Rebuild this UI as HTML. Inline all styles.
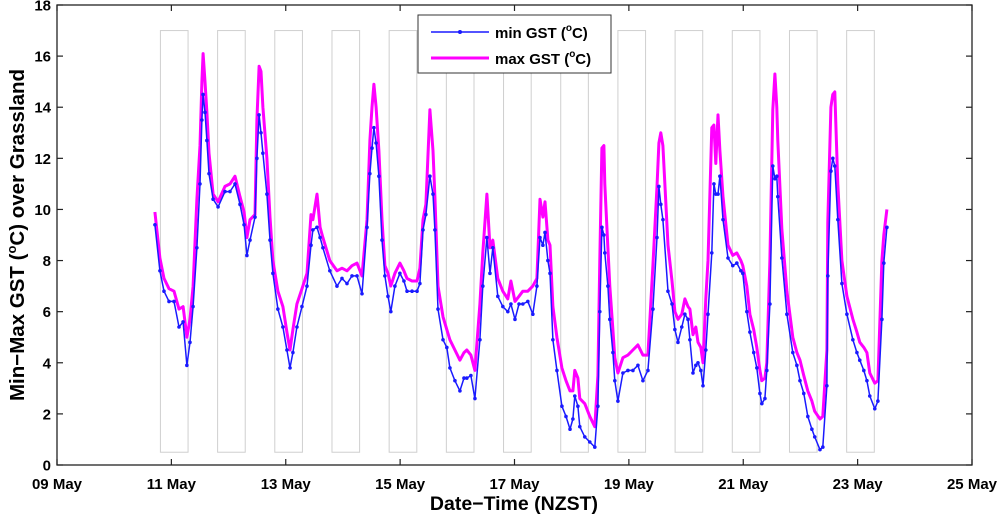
<!DOCTYPE html>
<html><head><meta charset="utf-8">
<style>
html,body{margin:0;padding:0;background:#fff;}
svg{display:block;font-family:"Liberation Sans",Arial,sans-serif;}
</style></head>
<body>
<svg id="chart" width="1000" height="515" viewBox="0 0 1000 515">
  <rect x="0" y="0" width="1000" height="515" fill="#fff"/>
  <g id="nights"></g>
  <g id="series"></g>
  <rect x="57" y="5" width="915" height="460" fill="none" stroke="#222" stroke-width="1.3"/>
  <g id="axes"></g>
  <text x="514" y="510" text-anchor="middle" font-size="19.5" font-weight="bold" fill="#000">Date−Time (NZST)</text>
  <text transform="translate(24,235) rotate(-90)" text-anchor="middle" font-size="20.5" font-weight="bold" fill="#000">Min−Max GST (<tspan font-size="13" dy="-8">o</tspan><tspan dy="8">C) over Grassland</tspan></text>
  <g>
    <rect x="418" y="15" width="193" height="58" fill="#fff" stroke="#333" stroke-width="1"/>
    <g>
      <line x1="431" y1="32" x2="489" y2="32" stroke="#1a1aff" stroke-width="1.5"/>
      <circle cx="460" cy="32" r="2" fill="#1a1aff"/>
      <text x="495" y="38" font-size="15" font-weight="bold">min GST (<tspan font-size="10" dy="-7">o</tspan><tspan dy="7">C)</tspan></text>
    </g>
    <g>
      <line x1="431" y1="58" x2="489" y2="58" stroke="#ff00ff" stroke-width="3"/>
      <text x="495" y="64" font-size="15" font-weight="bold">max GST (<tspan font-size="10" dy="-7">o</tspan><tspan dy="7">C)</tspan></text>
    </g>
  </g>
</svg>
<script>
// hours since 09 May 00:00 NZST
const hours = [
41.1,43.2,44.9,47.0,49.1,51.2,52.9,54.5,55.8,57.1,
58.7,60.0,60.8,61.3,62.1,62.9,63.8,65.5,67.6,70.5,
72.6,74.7,76.8,78.5,79.7,81.0,83.1,83.9,84.8,85.6,
86.4,88.1,89.4,90.6,92.7,94.8,96.5,97.8,99.0,100.7,
102.8,104.9,106.6,107.4,109.1,110.4,111.6,114.5,117.5,119.6,
121.7,123.8,125.9,128.0,130.1,131.3,132.2,133.0,133.9,135.1,
136.4,137.6,138.9,140.1,141.8,143.9,145.6,146.9,149.0,151.1,
152.3,153.6,154.8,156.5,157.8,158.6,159.9,162.0,163.6,164.9,
167.0,169.1,170.8,172.0,173.7,175.4,177.5,178.7,180.4,181.7,
182.9,185.0,187.1,189.2,190.5,192.2,193.9,195.5,197.6,199.7,
201.4,202.7,203.9,204.8,206.0,206.9,208.1,209.8,211.9,213.6,
215.3,216.5,217.3,218.6,219.4,221.5,223.6,225.7,227.0,227.8,
228.7,229.5,229.9,231.2,232.0,233.3,234.1,235.4,237.5,239.6,
241.7,243.8,245.9,248.0,250.1,251.8,252.6,253.4,254.3,256.4,
258.1,259.3,260.6,262.2,263.5,264.8,265.6,266.9,268.1,269.0,
270.2,271.1,272.3,273.2,274.8,275.7,276.5,277.4,278.2,279.5,
281.6,283.6,285.3,287.0,287.8,289.5,290.8,292.4,293.7,295.0,
295.8,297.1,297.9,299.2,300.4,301.3,302.1,302.5,304.2,306.3,
308.8,310.5,311.8,313.4,315.1,316.8,318.0,320.2,321.4,323.1,
323.5,324.8,325.6,326.4,327.7,329.4,331.5,334.0,335.7,336.9,
338.6,339.9,341.1,343.2,344.5,346.2,347.0,348.3];
const minGST = [
9.4,7.6,6.8,6.4,6.4,5.4,5.6,3.9,4.8,6.2,
8.5,11.0,13.5,14.5,13.8,12.7,11.4,10.4,10.1,10.7,
10.7,11.0,10.2,9.4,8.2,8.8,9.7,12.0,13.7,13.0,
12.2,10.6,8.8,7.5,6.1,5.4,4.5,3.8,4.4,5.4,
6.2,7.0,8.6,9.2,9.3,8.9,8.5,7.6,7.0,7.3,
7.1,7.4,7.4,6.7,9.3,11.4,12.4,13.2,12.6,11.3,
8.8,7.4,6.6,6.0,7.0,7.5,7.2,6.8,6.8,6.8,
7.1,9.2,9.8,11.3,10.6,9.2,6.1,4.9,4.6,3.8,
3.3,2.9,3.4,3.4,3.5,2.6,4.9,7.0,8.9,7.5,
8.5,6.6,6.2,6.0,6.3,5.7,6.3,6.3,6.4,5.9,
7.0,8.9,8.6,9.1,8.0,7.5,4.9,3.7,2.3,1.9,
1.4,1.8,2.7,2.3,1.5,1.1,0.9,0.7,2.3,6.0,
9.3,9.0,8.3,7.0,5.7,4.4,3.3,2.5,3.6,3.7,
3.7,3.9,3.3,3.7,6.1,8.9,10.9,10.2,9.6,6.8,
6.3,5.3,4.8,5.4,5.9,5.7,4.9,3.6,3.9,4.0,
3.7,3.1,4.5,5.9,8.3,11.0,10.6,10.6,11.3,9.6,
8.1,7.8,7.9,7.6,7.5,6.0,5.2,4.4,3.8,2.8,
2.4,2.6,3.7,6.3,11.7,11.2,11.3,10.5,8.1,5.9,
4.4,3.9,3.3,2.8,1.9,1.4,1.1,0.6,0.7,3.1,
7.4,11.5,12.0,11.7,9.6,7.1,5.9,4.9,4.4,4.1,
3.7,3.3,2.7,2.2,2.5,5.7,7.9,9.3];
const maxGST = [
9.9,8.1,7.3,6.9,6.8,6.1,6.2,5.0,5.7,7.0,
10.4,12.5,15.0,16.1,15.0,13.8,12.2,10.6,10.3,10.9,
11.0,11.3,10.5,9.9,8.9,9.6,9.8,13.5,15.6,15.4,
14.0,12.0,9.7,8.0,6.8,6.2,5.2,4.5,5.3,6.3,
6.9,7.5,9.8,9.6,10.6,9.3,8.9,8.0,7.6,7.7,
7.6,7.8,7.9,7.4,9.6,12.7,14.0,14.9,14.0,12.3,
9.6,7.8,7.5,7.0,7.5,7.9,7.6,7.3,7.2,7.2,
7.7,9.6,10.2,13.9,12.3,10.5,7.0,5.8,5.3,4.9,
4.5,4.1,4.4,4.5,4.3,3.7,6.3,8.3,10.6,8.5,
8.8,7.3,6.8,6.5,7.2,6.4,6.6,6.8,6.8,7.0,
7.3,10.4,9.7,10.3,8.8,8.6,6.2,5.0,3.8,3.3,
2.9,2.9,3.7,3.4,2.6,2.4,1.9,1.5,3.5,8.0,
12.4,12.5,11.0,8.5,7.0,5.3,4.2,3.6,4.2,4.3,
4.5,4.7,4.3,4.3,7.8,10.9,12.6,13.0,12.5,8.6,
7.2,6.0,5.7,5.9,6.5,6.2,6.1,5.1,5.4,4.8,
4.6,4.0,6.5,8.0,13.2,13.3,11.8,13.7,12.3,10.5,
8.6,8.2,8.3,8.0,7.8,7.0,5.9,5.3,4.6,3.7,
3.3,3.4,4.0,8.0,13.9,15.3,14.0,12.7,9.2,6.8,
5.0,4.4,4.1,3.5,2.9,2.5,2.1,1.8,1.9,4.5,
9.5,14.0,14.5,14.6,11.0,8.0,6.6,5.7,5.2,4.8,
4.6,4.4,3.6,3.2,3.3,8.0,9.0,10.0];
// night periods: [start hour, end hour] since 09 May 00:00
const nightStart = [43.4,67.4,91.4,115.4,139.4,163.4,187.4,211.4,235.4,259.4,283.4,307.4,331.4];
const nightEnd   = [55.0,79.0,103.0,127.0,151.0,175.0,199.0,223.0,247.0,271.0,295.0,319.0,343.0];
const xTickLabels = ['09 May','11 May','13 May','15 May','17 May','19 May','21 May','23 May','25 May'];
const xTickHours = [0,48,96,144,192,240,288,336,384];
const yTicks = [0,2,4,6,8,10,12,14,16,18];

const NS='http://www.w3.org/2000/svg';
const X0=57,X1=972,Y0=465,Y1=5;
const xs=h=>X0+(h/384)*(X1-X0);
const ys=v=>Y0-(v/18)*(Y0-Y1);
function mk(tag,attrs,parent){const e=document.createElementNS(NS,tag);for(const k in attrs)e.setAttribute(k,attrs[k]);parent.appendChild(e);return e;}

const nights=document.getElementById('nights');
nightStart.forEach((s,i)=>{
  const r=mk('rect',{x:xs(s),y:ys(17),width:xs(nightEnd[i])-xs(s),height:ys(0.5)-ys(17),fill:'none',stroke:'#cfcfcf','stroke-width':1},nights);
  
  
});

const series=document.getElementById('series');
const maxPath=mk('polyline',{points:hours.map((h,i)=>xs(h).toFixed(1)+','+ys(maxGST[i]).toFixed(1)).join(' '),fill:'none',stroke:'#ff00ff','stroke-width':3,'stroke-linejoin':'round'},series);


const minPath=mk('polyline',{points:hours.map((h,i)=>xs(h).toFixed(1)+','+ys(minGST[i]).toFixed(1)).join(' '),fill:'none',stroke:'#1a1aff','stroke-width':1.5,'stroke-linejoin':'round'},series);


hours.forEach((h,i)=>{
  const c=mk('circle',{cx:xs(h),cy:ys(minGST[i]),r:1.8,fill:'#1a1aff'},series);
  
  
});

const axes=document.getElementById('axes');
xTickHours.forEach((h,i)=>{
  const x=xs(h);
  mk('line',{x1:x,y1:Y0,x2:x,y2:Y0-6,stroke:'#222','stroke-width':1.2},axes);
  mk('line',{x1:x,y1:Y1,x2:x,y2:Y1+6,stroke:'#222','stroke-width':1.2},axes);
  const t=mk('text',{x:x,y:489,'text-anchor':'middle','font-size':15,'font-weight':'bold',fill:'#000'},axes);
  t.textContent=xTickLabels[i];
  
  
});
yTicks.forEach(v=>{
  const y=ys(v);
  mk('line',{x1:X0,y1:y,x2:X0+6,y2:y,stroke:'#222','stroke-width':1.2},axes);
  mk('line',{x1:X1,y1:y,x2:X1-6,y2:y,stroke:'#222','stroke-width':1.2},axes);
  const t=mk('text',{x:51,y:y+5.5,'text-anchor':'end','font-size':15,'font-weight':'bold',fill:'#000'},axes);
  t.textContent=String(v);
  
  
});
</script>
</body></html>
